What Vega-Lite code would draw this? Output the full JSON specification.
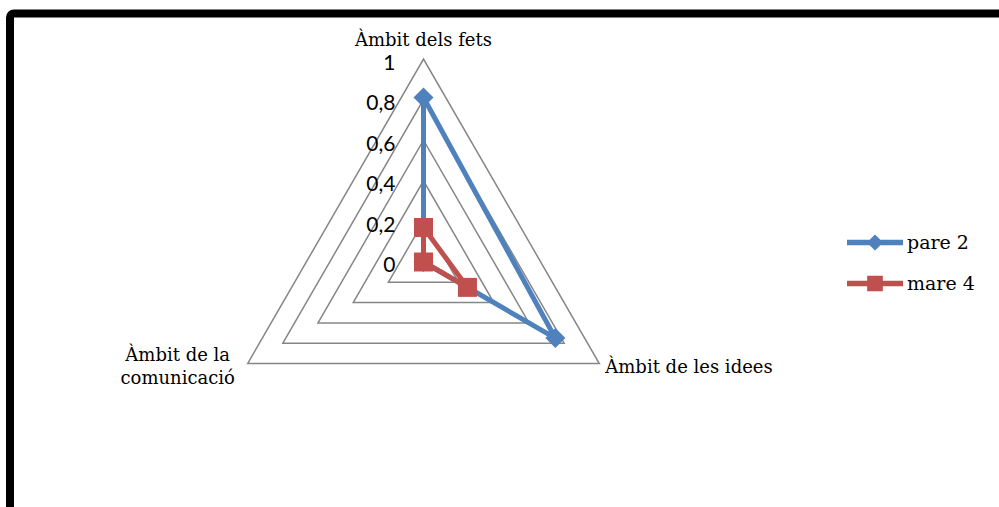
{
  "$schema": "https://vega.github.io/schema/vega-lite/v6.json",
  "autosize": "none",
  "width": 1000,
  "height": 500,
  "padding": {"left": 10, "top": 13.5, "right": 0, "bottom": 0},
  "background": "white",
  "config": {
    "view": {"stroke": "black", "strokeWidth": 8, "cornerRadius": 4, "fill": "white"}
  },
  "data": {
    "values": [
      {"kind": "grid", "axis": "Àmbit dels fets", "value": 0.2},
      {"kind": "grid", "axis": "Àmbit de les idees", "value": 0.2},
      {"kind": "grid", "axis": "Àmbit de la comunicació", "value": 0.2},
      {"kind": "grid", "axis": "Àmbit dels fets", "value": 0.4},
      {"kind": "grid", "axis": "Àmbit de les idees", "value": 0.4},
      {"kind": "grid", "axis": "Àmbit de la comunicació", "value": 0.4},
      {"kind": "grid", "axis": "Àmbit dels fets", "value": 0.6},
      {"kind": "grid", "axis": "Àmbit de les idees", "value": 0.6},
      {"kind": "grid", "axis": "Àmbit de la comunicació", "value": 0.6},
      {"kind": "grid", "axis": "Àmbit dels fets", "value": 0.8},
      {"kind": "grid", "axis": "Àmbit de les idees", "value": 0.8},
      {"kind": "grid", "axis": "Àmbit de la comunicació", "value": 0.8},
      {"kind": "grid", "axis": "Àmbit dels fets", "value": 1},
      {"kind": "grid", "axis": "Àmbit de les idees", "value": 1},
      {"kind": "grid", "axis": "Àmbit de la comunicació", "value": 1},
      {"kind": "score", "series": "pare 2", "axis": "Àmbit dels fets", "value": 0.81},
      {"kind": "score", "series": "pare 2", "axis": "Àmbit de les idees", "value": 0.75},
      {"kind": "score", "series": "pare 2", "axis": "Àmbit de la comunicació", "value": 0},
      {"kind": "score", "series": "mare 4", "axis": "Àmbit dels fets", "value": 0.17},
      {"kind": "score", "series": "mare 4", "axis": "Àmbit de les idees", "value": 0.25},
      {"kind": "score", "series": "mare 4", "axis": "Àmbit de la comunicació", "value": 0},
      {"kind": "tick", "axis": "Àmbit dels fets", "value": 0, "label": "0"},
      {"kind": "tick", "axis": "Àmbit dels fets", "value": 0.2, "label": "0,2"},
      {"kind": "tick", "axis": "Àmbit dels fets", "value": 0.4, "label": "0,4"},
      {"kind": "tick", "axis": "Àmbit dels fets", "value": 0.6, "label": "0,6"},
      {"kind": "tick", "axis": "Àmbit dels fets", "value": 0.8, "label": "0,8"},
      {"kind": "tick", "axis": "Àmbit dels fets", "value": 1, "label": "1"},
      {"kind": "cat", "axis": "Àmbit dels fets", "value": 1, "label": "Àmbit dels fets"},
      {"kind": "cat", "axis": "Àmbit de les idees", "value": 1, "label": "Àmbit de les idees"},
      {"kind": "cat", "axis": "Àmbit de la comunicació", "value": 1, "label": ["Àmbit de la", "comunicació"]}
    ]
  },
  "transform": [
    {"calculate": "datum.axis === 'Àmbit dels fets' ? 0 : (datum.axis === 'Àmbit de les idees' ? 0.8660254 : -0.8660254)", "as": "ax"},
    {"calculate": "datum.axis === 'Àmbit dels fets' ? 1 : -0.5", "as": "ay"},
    {"calculate": "datum.ax * datum.value", "as": "x"},
    {"calculate": "datum.ay * datum.value", "as": "y"}
  ],
  "encoding": {
    "x": {"field": "x", "type": "quantitative", "scale": {"domain": [-2.03695, 2.88916], "nice": false, "zero": false}, "axis": null},
    "y": {"field": "y", "type": "quantitative", "scale": {"domain": [-1.23892, 1.22414], "nice": false, "zero": false}, "axis": null}
  },
  "layer": [
    {
      "transform": [{"filter": "datum.kind === 'grid'"}],
      "mark": {"type": "line", "interpolate": "linear-closed", "stroke": "#868686", "strokeWidth": 1.5},
      "encoding": {"detail": {"field": "value", "type": "ordinal"}}
    },
    {
      "transform": [{"filter": "datum.kind === 'score' && datum.series === 'pare 2'"}],
      "mark": {"type": "line", "interpolate": "linear-closed", "stroke": "#4F81BD", "strokeWidth": 5, "strokeJoin": "round", "strokeCap": "round"},
      "encoding": {}
    },
    {
      "transform": [{"filter": "datum.kind === 'score' && datum.series === 'pare 2'"}],
      "mark": {"type": "point", "shape": "diamond", "filled": true, "fill": "#4F81BD", "size": 400, "opacity": 1}
    },
    {
      "transform": [{"filter": "datum.kind === 'score' && datum.series === 'mare 4'"}],
      "mark": {"type": "line", "interpolate": "linear-closed", "stroke": "#C0504D", "strokeWidth": 5, "strokeJoin": "round", "strokeCap": "round"},
      "encoding": {}
    },
    {
      "transform": [{"filter": "datum.kind === 'score' && datum.series === 'mare 4'"}],
      "mark": {"type": "point", "shape": "square", "filled": true, "fill": "#C0504D", "size": 361, "opacity": 1}
    },
    {
      "transform": [{"filter": "datum.kind === 'tick'"}],
      "mark": {"type": "text", "align": "right", "baseline": "middle", "dx": -28, "dy": 4.5, "font": "Lato", "fontSize": 21, "fill": "black"},
      "encoding": {"text": {"field": "label"}}
    },
    {
      "transform": [{"filter": "datum.kind === 'cat' && datum.axis === 'Àmbit dels fets'"}],
      "mark": {"type": "text", "align": "center", "baseline": "alphabetic", "dy": -13, "font": "DejaVu Serif", "fontSize": 18, "fill": "black"},
      "encoding": {"text": {"field": "label"}}
    },
    {
      "transform": [{"filter": "datum.kind === 'cat' && datum.axis === 'Àmbit de les idees'"}],
      "mark": {"type": "text", "align": "left", "baseline": "alphabetic", "dx": 6, "dy": 10, "font": "DejaVu Serif", "fontSize": 18, "fill": "black"},
      "encoding": {"text": {"field": "label"}}
    },
    {
      "transform": [{"filter": "datum.kind === 'cat' && datum.axis === 'Àmbit de la comunicació'"}],
      "mark": {"type": "text", "align": "center", "baseline": "alphabetic", "dx": -70, "dy": -2, "lineHeight": 23, "font": "DejaVu Serif", "fontSize": 18, "fill": "black"},
      "encoding": {"text": {"field": "label"}}
    },
    {
      "transform": [{"filter": "false"}],
      "mark": {"type": "point", "filled": true, "opacity": 1},
      "encoding": {
        "color": {
          "field": "series", "type": "nominal",
          "scale": {"domain": ["pare 2", "mare 4"], "range": ["#4F81BD", "#C0504D"]},
          "legend": {
            "title": null, "orient": "none", "legendX": 837, "legendY": 201,
            "symbolSize": 3136, "symbolStrokeWidth": 0, "symbolOpacity": 1,
            "labelFont": "DejaVu Serif", "labelFontSize": 19, "labelColor": "black",
            "labelOffset": 4, "rowPadding": 3, "padding": 0
          }
        },
        "shape": {
          "field": "series", "type": "nominal",
          "scale": {"domain": ["pare 2", "mare 4"], "range": [
            "M-1,-0.1H1V0.1H-1Z M0,-0.29L0.29,0L0,0.29L-0.29,0Z",
            "M-1,-0.1H1V0.1H-1Z M-0.28,-0.28H0.28V0.28H-0.28Z"
          ]}
        }
      }
    }
  ]
}
